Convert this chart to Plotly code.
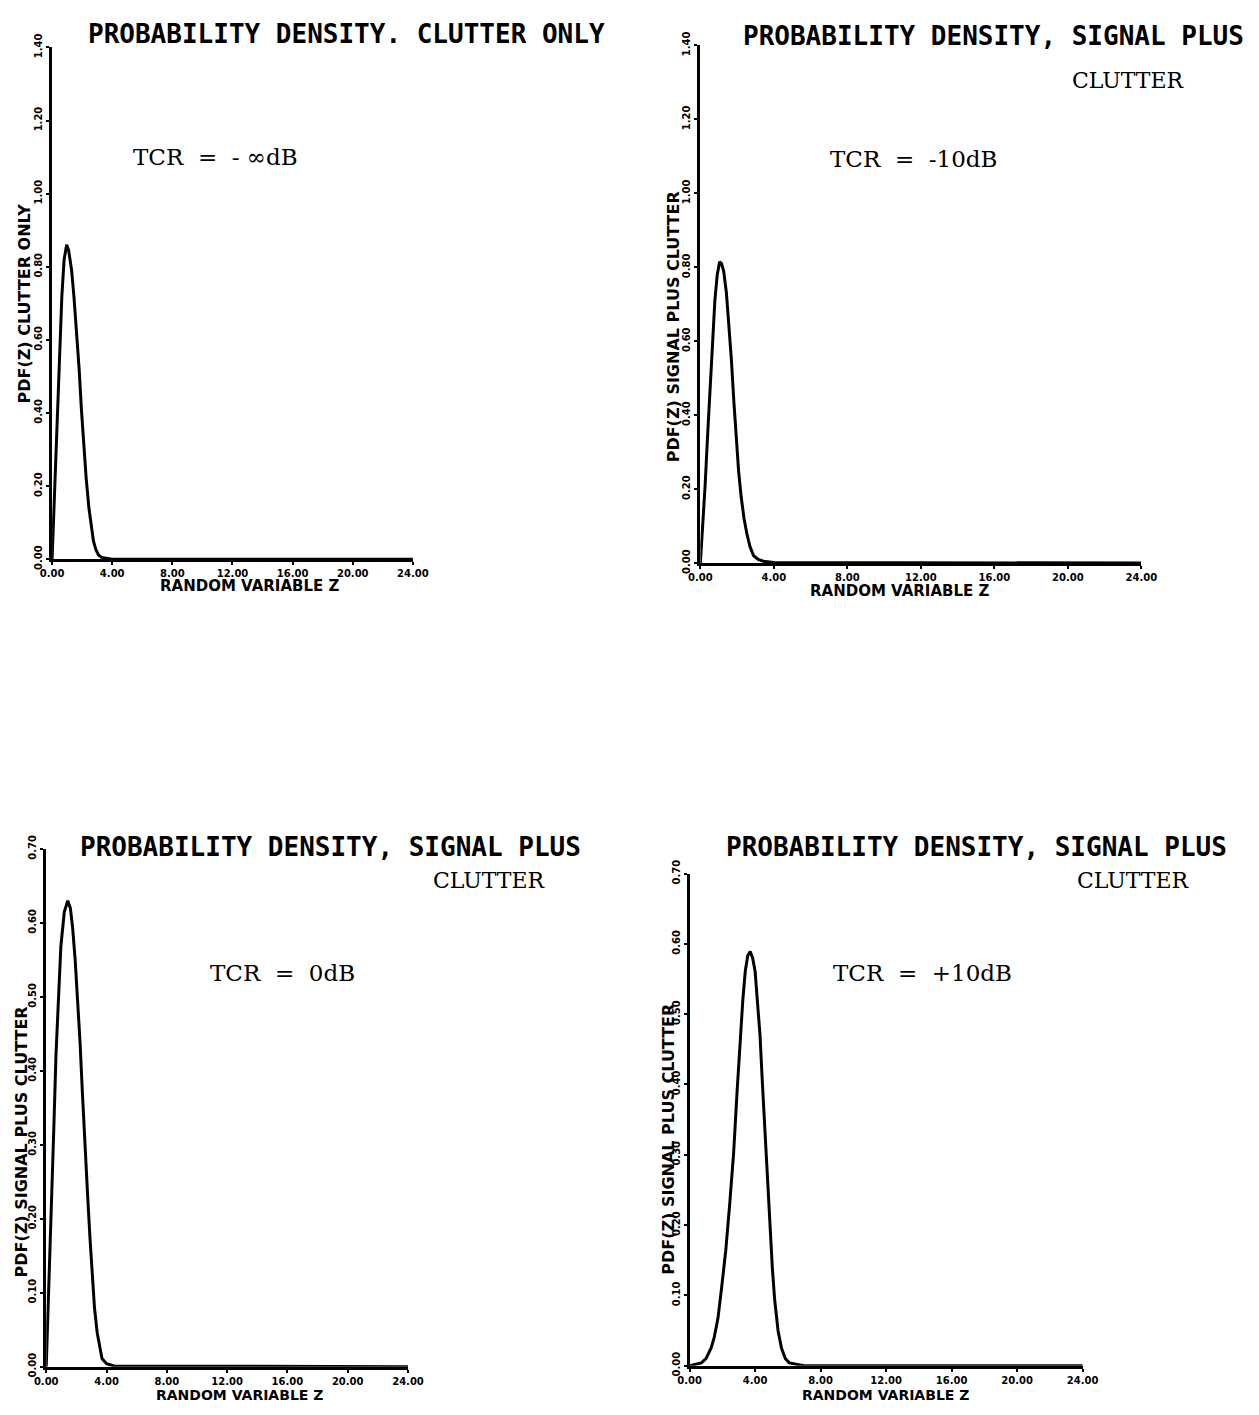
import plotly.graph_objects as go

# ---------------- data ----------------
z_clutter = [0.0, 0.15, 0.32, 0.5, 0.65, 0.8, 0.97, 1.1, 1.3, 1.45, 1.62, 1.8, 1.95, 2.1,
             2.27, 2.45, 2.6, 2.75, 2.92, 3.1, 3.3, 3.6, 4.0, 24.0]
p_clutter = [0.0, 0.17, 0.36, 0.56, 0.72, 0.82, 0.86, 0.845, 0.79, 0.72, 0.63, 0.52, 0.41, 0.31,
             0.22, 0.14, 0.09, 0.05, 0.025, 0.011, 0.005, 0.002, 0.0, 0.0]

z_m10 = [0.0, 0.12, 0.26, 0.4, 0.53, 0.66, 0.79, 0.92, 1.05, 1.15, 1.27, 1.42, 1.55, 1.69, 1.82,
         1.95, 2.08, 2.22, 2.38, 2.53, 2.7, 2.9, 3.15, 3.43, 4.0, 24.0]
p_m10 = [0.0, 0.09, 0.21, 0.35, 0.48, 0.6, 0.71, 0.78, 0.815, 0.81, 0.79, 0.73, 0.65, 0.55, 0.44,
         0.34, 0.25, 0.18, 0.12, 0.08, 0.045, 0.02, 0.01, 0.005, 0.002, 0.0]

z_0 = [0.0, 0.15, 0.32, 0.5, 0.65, 0.8, 0.97, 1.2, 1.43, 1.6, 1.75, 1.92, 2.08, 2.24, 2.4, 2.56,
       2.73, 2.9, 3.05, 3.2, 3.38, 3.55, 3.7, 4.0, 4.5, 24.0]
p_0 = [0.0, 0.09, 0.198, 0.32, 0.423, 0.5, 0.568, 0.615, 0.63, 0.62, 0.594, 0.55, 0.502, 0.44,
       0.37, 0.3, 0.238, 0.175, 0.12, 0.08, 0.046, 0.024, 0.011, 0.004, 0.001, 0.0]

z_p10 = [0.0, 0.72, 1.0, 1.31, 1.5, 1.73, 1.95, 2.21, 2.45, 2.69, 2.9, 3.1, 3.25, 3.4, 3.55, 3.7,
         3.85, 4.0, 4.15, 4.3, 4.45, 4.6, 4.75, 4.9, 5.05, 5.19, 5.4, 5.61, 5.85, 6.09, 7.0, 24.0]
p_p10 = [0.0, 0.004, 0.01, 0.025, 0.04, 0.067, 0.11, 0.164, 0.23, 0.303, 0.39, 0.47, 0.52, 0.561,
         0.583, 0.589, 0.58, 0.561, 0.52, 0.47, 0.40, 0.331, 0.26, 0.192, 0.14, 0.095, 0.05, 0.025,
         0.01, 0.004, 0.0, 0.0]

x_ticks = [0, 4, 8, 12, 16, 20, 24]
x_ticklabels = ["0.00", "4.00", "8.00", "12.00", "16.00", "20.00", "24.00"]
y_ticks_top = [0.0, 0.2, 0.4, 0.6, 0.8, 1.0, 1.2, 1.4]
y_ticklabels_top = ["0.00", "0.20", "0.40", "0.60", "0.80", "1.00", "1.20", "1.40"]
y_ticks_bot = [0.0, 0.1, 0.2, 0.3, 0.4, 0.5, 0.6, 0.7]
y_ticklabels_bot = ["0.00", "0.10", "0.20", "0.30", "0.40", "0.50", "0.60", "0.70"]

W, H = 1259, 1415


def px(x):
    return x / W


def py(y):
    return 1 - y / H


panels = [
    # (z, p, xdomain px, ydomain px(bottom, top), yticks, ylabels, yrange top)
    (z_clutter, p_clutter, (41, 410), (555, 34), y_ticks_top, y_ticklabels_top, 1.4),
    (z_m10, p_m10, (704, 1155), (559, 32), y_ticks_top, y_ticklabels_top, 1.4),
    (z_0, p_0, (35, 405), (1377, 850), y_ticks_bot, y_ticklabels_bot, 0.7),
    (z_p10, p_p10, (693, 1095), (1376, 875), y_ticks_bot, y_ticklabels_bot, 0.7),
]

fig = go.Figure()
tickfont = dict(family="DejaVu Sans", size=10, color="black", weight="bold")

for i, (z, p, xd, yd, yt, yl, ytop) in enumerate(panels):
    n = "" if i == 0 else str(i + 1)
    fig.add_trace(go.Scatter(x=z, y=p, mode="lines", xaxis="x" + n, yaxis="y" + n,
                             line=dict(color="black", width=3), showlegend=False,
                             hoverinfo="skip"))
    fig.layout["xaxis" + n] = dict(
        domain=[px(xd[0]), px(xd[1])], range=[0, 24], anchor="y" + n,
        tickmode="array", tickvals=x_ticks, ticktext=x_ticklabels,
        showline=True, linecolor="black", linewidth=3, ticks="outside",
        ticklen=3, tickwidth=2, tickcolor="black", showgrid=False, zeroline=False,
        tickfont=tickfont, fixedrange=True)
    fig.layout["yaxis" + n] = dict(
        domain=[py(yd[0]), py(yd[1])], range=[0, ytop], anchor="x" + n,
        tickmode="array", tickvals=yt, ticktext=yl, tickangle=-90,
        showline=True, linecolor="black", linewidth=3, ticks="outside",
        ticklen=3, tickwidth=2, tickcolor="black", showgrid=False, zeroline=False,
        tickfont=tickfont, fixedrange=True)

plot_font = dict(family="DejaVu Sans Mono", size=26, color="black", weight="bold")
serif_font = dict(family="DejaVu Serif", size=22, color="black")
tcr_font = dict(family="DejaVu Serif", size=23, color="black")
axis_font = dict(family="DejaVu Sans", size=15, color="black", weight="bold")
axis_font_b = dict(family="DejaVu Sans", size=14, color="black", weight="bold")
ytitle_font = dict(family="DejaVu Sans", size=16, color="black", weight="bold")

NB = "\u00a0"
annotations = [
    # titles
    (76, 20, "PROBABILITY DENSITY. CLUTTER ONLY", plot_font, "left", 0),
    (746, 22, "PROBABILITY DENSITY, SIGNAL PLUS", plot_font, "left", 0),
    (1202, 68, "CLUTTER", serif_font, "right", 0),
    (68, 848, "PROBABILITY DENSITY, SIGNAL PLUS", plot_font, "left", 0),
    (548, 882, "CLUTTER", serif_font, "right", 0),
    (728, 848, "PROBABILITY DENSITY, SIGNAL PLUS", plot_font, "left", 0),
    (1207, 882, "CLUTTER", serif_font, "right", 0),
    # TCR labels
    (122, 146, "TCR" + NB * 2 + "=" + NB * 2 + "-" + NB + "∞dB", tcr_font, "left", 0),
    (835, 148, "TCR" + NB * 2 + "=" + NB * 2 + "-10dB", tcr_font, "left", 0),
    (200, 976, "TCR" + NB * 2 + "=" + NB * 2 + "0dB", tcr_font, "left", 0),
    (838, 976, "TCR" + NB * 2 + "=" + NB * 2 + "+10dB", tcr_font, "left", 0),
    # x-axis titles
    (243, 582, "RANDOM VARIABLE Z", axis_font, "center", 0),
    (908, 587, "RANDOM VARIABLE Z", axis_font, "center", 0),
    (233, 1406, "RANDOM VARIABLE Z", axis_font_b, "center", 0),
    (893, 1406, "RANDOM VARIABLE Z", axis_font_b, "center", 0),
    # y-axis titles
    (13, 295, "PDF(Z) CLUTTER ONLY", ytitle_font, "center", -90),
    (676, 318, "PDF(Z) SIGNAL PLUS CLUTTER", ytitle_font, "center", -90),
    (10, 1148, "PDF(Z) SIGNAL PLUS CLUTTER", ytitle_font, "center", -90),
    (672, 1146, "PDF(Z) SIGNAL PLUS CLUTTER", ytitle_font, "center", -90),
]

for x, y, text, font, align, ang in annotations:
    fig.add_annotation(x=px(x), y=py(y), xref="paper", yref="paper", text=text,
                       showarrow=False, font=font, xanchor=align, yanchor="middle",
                       textangle=ang)

fig.update_layout(width=W, height=H, margin=dict(l=0, r=0, t=0, b=0),
                  paper_bgcolor="white", plot_bgcolor="white")

fig.write_html("out.html")
